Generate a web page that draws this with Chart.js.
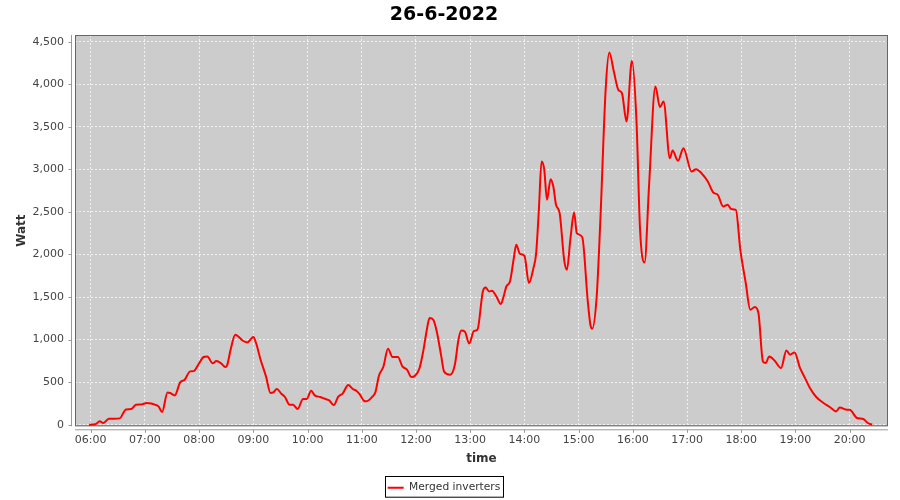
<!DOCTYPE html>
<html>
<head>
<meta charset="utf-8">
<script src="https://cdn.jsdelivr.net/npm/chart.js@4"></script>
<style>
  body { margin: 0; background: #fff; }
</style>
</head>
<body>
<canvas id="chart" width="900" height="500"></canvas>
<script>
// readings for 26-6-2022, merged inverters (time of day, watt)
const times = [
  '05:58', '06:05', '06:10', '06:14', '06:20', '06:26', '06:32', '06:39', '06:45', '06:50',
  '06:56', '07:02', '07:07', '07:11', '07:15', '07:19', '07:25', '07:28', '07:33', '07:39',
  '07:44', '07:50', '07:54', '07:59', '08:05', '08:09', '08:15', '08:19', '08:24', '08:29',
  '08:31', '08:35', '08:40', '08:43', '08:48', '08:53', '08:56', '09:00', '09:03', '09:08',
  '09:14', '09:19', '09:22', '09:26', '09:31', '09:35', '09:40', '09:44', '09:49', '09:55',
  '09:59', '10:04', '10:08', '10:14', '10:19', '10:24', '10:29', '10:34', '10:39', '10:45',
  '10:50', '10:54', '10:58', '11:02', '11:05', '11:11', '11:15', '11:19', '11:24', '11:29',
  '11:34', '11:40', '11:45', '11:50', '11:55', '11:59', '12:04', '12:08', '12:12', '12:15',
  '12:19', '12:23', '12:28', '12:31', '12:38', '12:43', '12:47', '12:50', '12:54', '12:59',
  '13:04', '13:08', '13:14', '13:17', '13:21', '13:24', '13:29', '13:34', '13:37', '13:40',
  '13:44', '13:48', '13:51', '13:55', '14:00', '14:05', '14:10', '14:13', '14:16', '14:19',
  '14:22', '14:25', '14:29', '14:32', '14:35', '14:39', '14:44', '14:47', '14:51', '14:55',
  '14:58', '15:04', '15:10', '15:13', '15:15', '15:20', '15:24', '15:30', '15:34', '15:39',
  '15:44', '15:48', '15:53', '15:59', '16:04', '16:08', '16:13', '16:18', '16:25', '16:30',
  '16:34', '16:41', '16:44', '16:50', '16:56', '17:05', '17:10', '17:16', '17:23', '17:29',
  '17:34', '17:40', '17:45', '17:49', '17:54', '17:59', '18:05', '18:10', '18:15', '18:19',
  '18:24', '18:27', '18:31', '18:37', '18:44', '18:50', '18:54', '18:59', '19:05', '19:10',
  '19:16', '19:23', '19:31', '19:38', '19:45', '19:49', '19:57', '20:00', '20:08', '20:15',
  '20:20', '20:25'
];
const watts = [
  0, 5, 40, 20, 70, 72, 75, 180, 185, 236,
  238, 256, 250, 236, 216, 150, 380, 373, 345, 498,
  529, 627, 630, 705, 796, 803, 722, 748, 725, 678,
  700, 890, 1057, 1040, 990, 967, 990, 1030, 960, 764,
  568, 373, 380, 420, 365, 326, 236, 236, 185, 303,
  303, 400, 345, 326, 306, 286, 230, 330, 369, 466,
  420, 400, 353, 286, 275, 322, 380, 576, 685, 893,
  796, 796, 685, 647, 561, 576, 667, 862, 1116, 1253,
  1234, 1096, 803, 627, 588, 705, 999, 1108, 1096, 955,
  1100, 1116, 1566, 1613, 1566, 1574, 1507, 1418, 1507, 1624,
  1683, 1938, 2114, 2008, 1985, 1664, 1840, 2016, 2525, 3092,
  2994, 2642, 2885, 2798, 2583, 2486, 1938, 1820, 2192, 2493,
  2251, 2204, 1468, 1175, 1128, 1507, 2387, 3953, 4371, 4148,
  3933, 3894, 3561, 4277, 3581, 2290, 1906, 2818, 3972, 3730,
  3796, 3131, 3221, 3100, 3249, 2974, 3002, 2955, 2857, 2728,
  2701, 2563, 2583, 2533, 2525, 2055, 1664, 1351, 1383, 1312,
  744, 725, 803, 752, 667, 873, 823, 850, 667, 561,
  432, 326, 256, 209, 157, 204, 177, 177, 80, 68,
  21, 1
];
const hourTicks = [6, 7, 8, 9, 10, 11, 12, 13, 14, 15, 16, 17, 18, 19, 20];
const wattTicks = [0, 500, 1000, 1500, 2000, 2500, 3000, 3500, 4000, 4500];

const toHours = s => {
  const [h, m] = s.split(':').map(Number);
  return h + m / 60;
};
const points = times.map((t, i) => ({ x: toHours(t), y: watts[i] }));

// grey plot background, outline and the offset axis lines JFreeChart-style
const plotFrame = {
  id: 'plotFrame',
  beforeDraw(chart) {
    const { ctx, chartArea: a } = chart;
    ctx.save();
    ctx.fillStyle = '#cccccc';
    ctx.fillRect(a.left, a.top, a.right - a.left, a.bottom - a.top);
    ctx.restore();
  },
  beforeDatasetsDraw(chart) {
    const { ctx, chartArea: a, scales } = chart;
    ctx.save();
    ctx.lineWidth = 1;
    ctx.strokeStyle = '#666';
    ctx.strokeRect(a.left + 0.5, a.top + 0.5, a.right - a.left - 1, a.bottom - a.top - 1);

    ctx.strokeStyle = '#999';
    ctx.beginPath();
    const ax = a.left - 3.5;
    ctx.moveTo(ax, a.top);
    ctx.lineTo(ax, a.bottom);
    scales.y.ticks.forEach(t => {
      const p = Math.round(scales.y.getPixelForValue(t.value)) + 0.5;
      ctx.moveTo(ax, p);
      ctx.lineTo(ax - 3, p);
    });
    const ay = a.bottom + 3.5;
    ctx.moveTo(a.left, ay);
    ctx.lineTo(a.right, ay);
    scales.x.ticks.forEach(t => {
      const p = Math.round(scales.x.getPixelForValue(t.value)) + 0.5;
      ctx.moveTo(p, ay);
      ctx.lineTo(p, ay + 3);
    });
    ctx.stroke();
    ctx.restore();
  },
  afterDraw(chart) {
    const hb = chart.legend.legendHitBoxes[0];
    if (!hb) return;
    const { ctx } = chart;
    ctx.save();
    ctx.strokeStyle = '#000';
    ctx.lineWidth = 1;
    ctx.strokeRect(Math.round(hb.left) - 2.5, Math.round(hb.top) - 5.5, Math.round(hb.width) + 5, hb.height + 10);
    ctx.restore();
  }
};

const ctx = document.getElementById('chart').getContext('2d');

const chart = new Chart(ctx, {
  type: 'line',
  data: {
    datasets: [{
      label: 'Merged inverters',
      data: points,
      borderColor: '#ff0000',
      backgroundColor: '#ff0000',
      borderWidth: 2,
      pointRadius: 0,
      cubicInterpolationMode: 'monotone',
      fill: false
    }]
  },
  options: {
    responsive: false,
    animation: false,
    layout: { padding: { left: 0, right: 12, top: 0, bottom: -3 } },
    plugins: {
      title: {
        display: true,
        text: '26-6-2022',
        color: '#000',
        font: { family: 'DejaVu Sans', size: 19, weight: 'bold', lineHeight: '23px' },
        padding: { top: 4, bottom: 8 }
      },
      legend: {
        position: 'bottom',
        labels: {
          usePointStyle: true,
          pointStyle: 'line',
          pointStyleWidth: 16,
          padding: 10,
          color: '#333',
          font: { family: 'DejaVu Sans', size: 10.7 }
        }
      },
      tooltip: { enabled: false }
    },
    scales: {
      x: {
        type: 'linear',
        min: 5.71,
        max: 20.707,
        afterBuildTicks: s => { s.ticks = hourTicks.map(v => ({ value: v })); },
        afterFit: s => { s.height = 46; },
        ticks: {
          padding: 7,
          color: '#444',
          font: { family: 'DejaVu Sans', size: 11 },
          callback: v => String(v).padStart(2, '0') + ':00'
        },
        grid: { color: '#f2f2f2', lineWidth: 1, drawTicks: false },
        border: { display: false, dash: [2, 2] },
        title: {
          display: true,
          text: 'time',
          color: '#333',
          font: { family: 'DejaVu Sans', size: 12, weight: 'bold' },
          padding: { top: 0, bottom: 6 }
        }
      },
      y: {
        min: -18,
        max: 4578,
        afterBuildTicks: s => { s.ticks = wattTicks.map(v => ({ value: v })); },
        afterFit: s => { s.width = 75; },
        ticks: {
          padding: 11,
          color: '#444',
          font: { family: 'DejaVu Sans', size: 11 },
          callback: v => v.toLocaleString('en-US')
        },
        grid: { color: '#f2f2f2', lineWidth: 1, drawTicks: false },
        border: { display: false, dash: [2, 2] },
        title: {
          display: true,
          text: 'Watt',
          color: '#333',
          font: { family: 'DejaVu Sans', size: 12, weight: 'bold' },
          padding: { top: 15, bottom: 0 }
        }
      }
    }
  },
  plugins: [plotFrame]
});
</script>
</body>
</html>
